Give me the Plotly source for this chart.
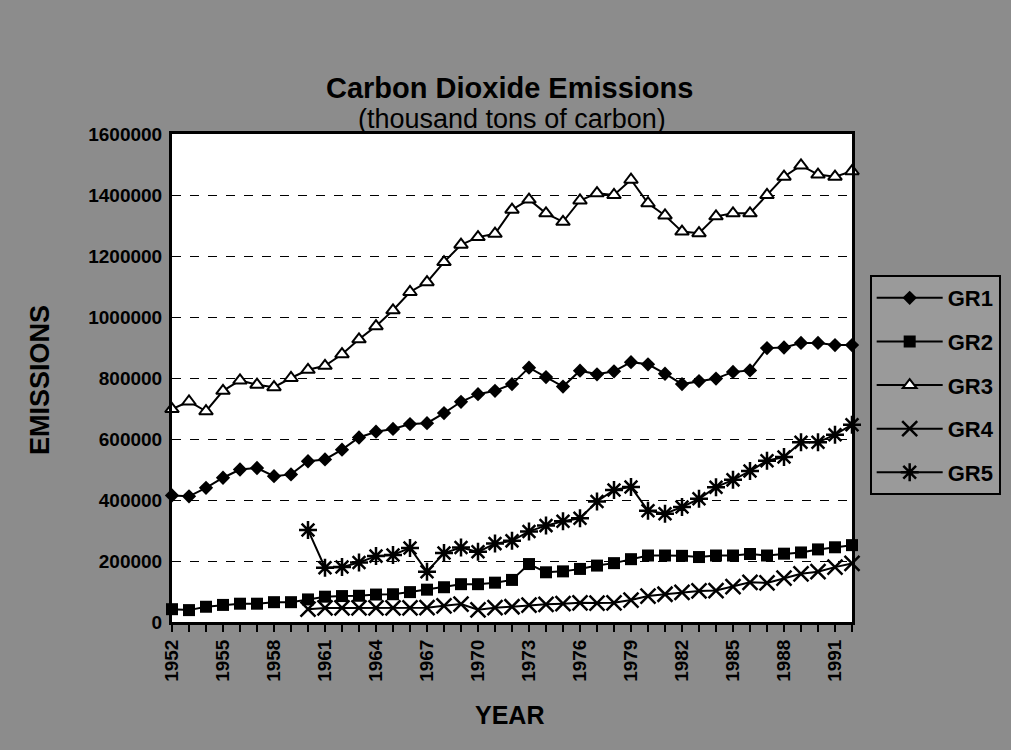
import plotly.graph_objects as go

years = list(range(1952, 1993))

gr1 = [415000, 412000, 440000, 473000, 500000, 505000, 478000, 484000, 527000, 533000,
       565000, 605000, 624000, 633000, 649000, 652000, 685000, 722000, 747000, 758000,
       780000, 834000, 803000, 772000, 824000, 812000, 822000, 852000, 845000, 814000,
       780000, 790000, 798000, 820000, 825000, 898000, 900000, 915000, 915000, 908000,
       908000]

gr2 = [42000, 39000, 50000, 56000, 60000, 60000, 65000, 65000, 74000, 83000,
       85000, 86000, 90000, 91000, 98000, 106000, 114000, 124000, 124000, 129000,
       138000, 190000, 163000, 166000, 174000, 185000, 193000, 206000, 218000, 218000,
       217000, 213000, 218000, 218000, 223000, 218000, 224000, 228000, 238000, 245000,
       252000]

gr3 = [698000, 723000, 691000, 758000, 792000, 778000, 770000, 800000, 827000, 840000,
       878000, 927000, 970000, 1022000, 1082000, 1114000, 1180000, 1237000, 1262000, 1273000,
       1352000, 1385000, 1340000, 1312000, 1382000, 1406000, 1400000, 1450000, 1373000, 1333000,
       1280000, 1275000, 1330000, 1340000, 1340000, 1400000, 1460000, 1497000, 1467000, 1460000,
       1478000]

gr4 = [None] * 8 + [42000, 46000, 46000, 46000, 46000, 46000, 46000, 47000, 53000, 59000,
       40000, 47000, 50000, 55000, 58000, 60000, 63000, 62000, 63000, 72000,
       85000, 91000, 97000, 102000, 103000, 116000, 130000, 128000, 144000, 158000,
       165000, 180000, 192000]

gr5 = [None] * 8 + [302000, 178000, 180000, 195000, 216000, 220000, 243000, 165000, 226000, 244000,
       230000, 257000, 266000, 297000, 316000, 330000, 340000, 395000, 433000, 443000,
       365000, 355000, 377000, 404000, 442000, 466000, 495000, 529000, 541000, 589000,
       589000, 614000, 647000]

series = [
    ("GR1", gr1, dict(symbol="diamond", size=11, color="black")),
    ("GR2", gr2, dict(symbol="square", size=12, color="black")),
    ("GR3", gr3, dict(symbol="triangle-up", size=12, color="white", line=dict(color="black", width=2))),
    ("GR4", gr4, dict(symbol="x-thin", size=15, color="black", line=dict(color="black", width=2.5))),
    ("GR5", gr5, dict(symbol="asterisk", size=15, color="black", line=dict(color="black", width=2.5))),
]

year_ticks = list(range(1952, 1993, 3))
y_ticks = list(range(0, 1600001, 200000))

FONT = "Arial, Liberation Sans, sans-serif"

fig = go.Figure()
for name, vals, mk in series:
    fig.add_trace(go.Scatter(
        x=years, y=vals, name=name, mode="lines+markers",
        line=dict(color="black", width=2), marker=mk,
        cliponaxis=False, legendgroup=name, connectgaps=False,
    ))

fig.update_layout(
    width=1011, height=750,
    paper_bgcolor="#8c8c8c", plot_bgcolor="white",
    margin=dict(l=172, r=159, t=134, b=128, autoexpand=False),
    font=dict(family=FONT, color="black"),
    legend=dict(
        x=1.026, xanchor="left", y=0.711, yanchor="top",
        bgcolor="#9a9a9a", bordercolor="black", borderwidth=2,
        font=dict(size=22, family=FONT, color="black", weight="bold"),
        itemwidth=66, tracegroupgap=12,
    ),
    showlegend=True,
    annotations=[
        dict(text="<b>Carbon Dioxide Emissions</b>", xref="paper", yref="paper",
             x=0.4956, y=(622 - 88) / 488, xanchor="center", yanchor="middle", showarrow=False,
             font=dict(size=29, family=FONT, color="black")),
        dict(text="(thousand tons of carbon)", xref="paper", yref="paper",
             x=0.5007, y=(622 - 119) / 488, xanchor="center", yanchor="middle", showarrow=False,
             font=dict(size=27, family=FONT, color="black")),
        dict(text="<b>EMISSIONS</b>", xref="paper", yref="paper",
             x=-0.194, y=0.496, xanchor="center", yanchor="middle", showarrow=False,
             textangle=-90, font=dict(size=27, family=FONT, color="black")),
        dict(text="<b>YEAR</b>", xref="paper", yref="paper",
             x=0.497, y=-0.1906, xanchor="center", yanchor="middle", showarrow=False,
             font=dict(size=25, family=FONT, color="black")),
    ],
)

fig.update_xaxes(
    range=[1952, 1992], tickmode="array", tickvals=year_ticks,
    ticktext=[str(y) for y in year_ticks], tickangle=-90,
    tickfont=dict(size=19, family=FONT, color="black", weight="bold"),
    ticks="outside", ticklen=7, tickwidth=1.5, tickcolor="black",
    minor=dict(dtick=1, tick0=1952, ticks="outside", ticklen=7, tickwidth=1.5, tickcolor="black", showgrid=False),
    showline=True, linecolor="black", linewidth=3, mirror=True, showgrid=False, zeroline=False,
)

fig.update_yaxes(
    range=[0, 1600000], tickmode="array", tickvals=y_ticks,
    ticktext=[str(v) for v in y_ticks],
    tickfont=dict(size=19, family=FONT, color="black", weight="bold"),
    ticks="", ticklabelstandoff=3, showline=True, linecolor="black", linewidth=3, mirror=True,
    showgrid=True, gridcolor="black", gridwidth=1, griddash="dash", zeroline=False,
)

fig.write_html("out.html", config={"displayModeBar": False},
               post_script="document.body.style.margin='0';")
